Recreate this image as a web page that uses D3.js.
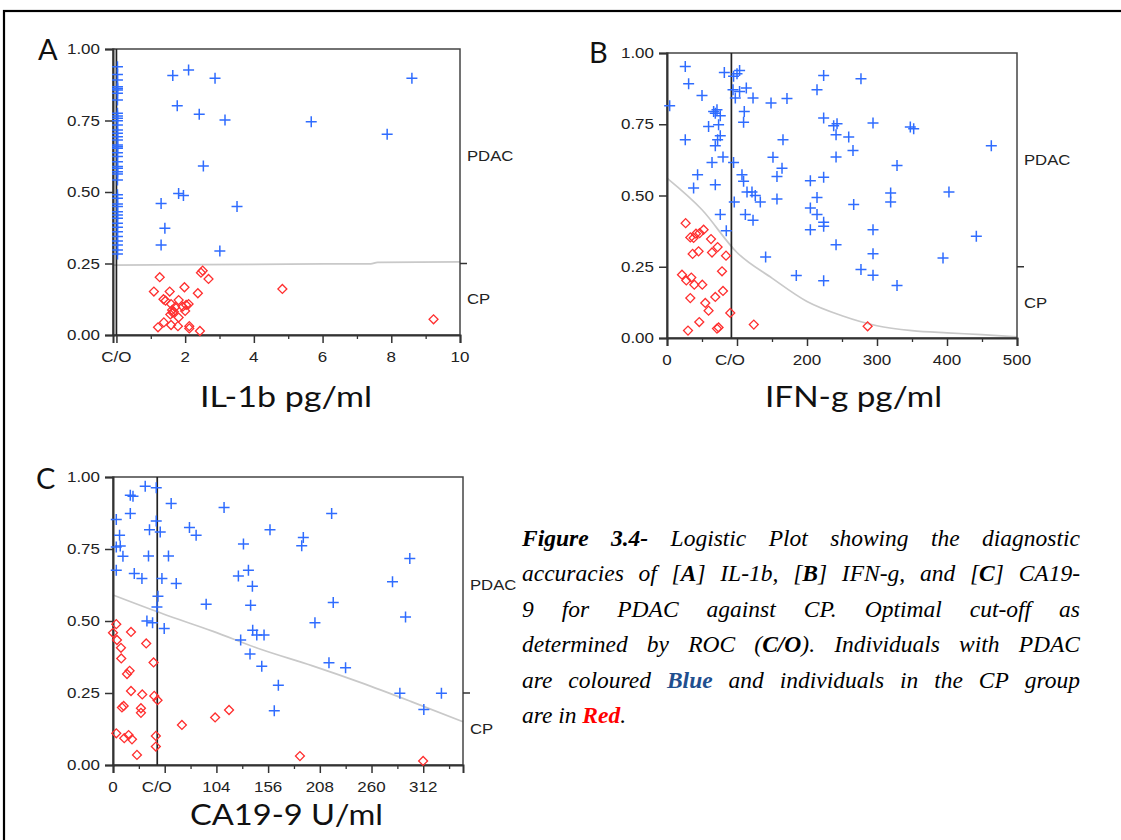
<!DOCTYPE html>
<html><head><meta charset="utf-8">
<script src="https://cdnjs.cloudflare.com/ajax/libs/d3/7.8.5/d3.min.js"></script>
<style>body{margin:0;background:#fff} svg{display:block}</style>
</head><body>
<script>
// ---------------- DATA ----------------
// Panel A : IL-1b pg/ml  -> [value, predicted probability]
const aCutoff = 0.0;
const aPdacAtCutoff = [0.938,0.911,0.892,0.868,0.862,0.857,0.845,0.822,0.775,0.766,0.758,0.749,0.734,0.717,0.705,0.693,0.682,0.664,0.658,0.653,0.637,0.624,0.606,0.589,0.583,0.571,0.563,0.542,0.490,0.478,0.458,0.449,0.431,0.420,0.408,0.391,0.377,0.361,0.344,0.329,0.315,0.297,0.283];
const aPdac = [[1.64,0.907],[2.10,0.927],[2.87,0.898],[1.77,0.802],[2.41,0.772],[3.16,0.752],[2.53,0.591],[1.81,0.495],[1.95,0.488],[1.30,0.460],[3.51,0.449],[1.41,0.373],[1.30,0.315],[3.01,0.294],[5.67,0.746],[8.60,0.898],[7.88,0.702]];
const aCp = [[1.26,0.202],[1.09,0.152],[1.55,0.152],[1.37,0.125],[1.43,0.120],[1.59,0.108],[1.62,0.087],[1.64,0.078],[1.57,0.072],[1.81,0.122],[1.98,0.167],[2.37,0.146],[2.10,0.108],[2.03,0.105],[1.93,0.099],[2.00,0.084],[1.81,0.061],[1.21,0.027],[1.38,0.044],[1.59,0.035],[1.79,0.031],[2.12,0.031],[2.12,0.023],[2.43,0.014],[2.46,0.218],[2.51,0.225],[2.68,0.196],[1.71,0.097],[1.67,0.081],[4.83,0.161],[9.23,0.055]];
const aFit = [[-0.1,0.244],[2.5,0.246],[5,0.248],[7.4,0.249],[7.6,0.254],[10,0.256]];
const aMajorTicks = [0,2,4,6,8,10];
const aMinorTicks = [1,3,5,7,9];
const aTickLabels = [[0,"C/O"],[2,"2"],[4,"4"],[6,"6"],[8,"8"],[10,"10"]];

// Panel B : IFN-g pg/ml
const bCutoff = 92;
const bPdac = [[3.8,0.815],[26.1,0.953],[30.9,0.892],[50,0.851],[26.1,0.696],[43.7,0.573],[38,0.526],[59.4,0.742],[66.6,0.795],[71.4,0.801],[69,0.789],[76.1,0.780],[73.7,0.748],[76.1,0.710],[72.3,0.696],[69,0.675],[64.3,0.616],[80,0.635],[69,0.538],[76.1,0.433],[84.7,0.376],[81.9,0.932],[95.1,0.918],[100,0.927],[103.7,0.939],[94.3,0.871],[97.6,0.842],[103.7,0.865],[113.3,0.877],[122.9,0.842],[110.4,0.795],[109.4,0.757],[95.1,0.616],[107.1,0.573],[109.4,0.550],[114.3,0.512],[121.4,0.512],[126.1,0.500],[133.3,0.477],[96.1,0.477],[111.9,0.433],[122.9,0.413],[140.9,0.284],[148.6,0.825],[171.4,0.840],[165.7,0.696],[151.4,0.634],[164.3,0.596],[157.1,0.567],[157.1,0.488],[184.7,0.219],[223.8,0.921],[277.1,0.910],[214.3,0.871],[223.8,0.772],[238.1,0.745],[242.9,0.752],[241.5,0.713],[259.6,0.705],[265.7,0.658],[294.3,0.754],[347.6,0.740],[352.4,0.734],[463.3,0.675],[241.5,0.635],[328.6,0.605],[204.8,0.552],[223.8,0.564],[319.5,0.509],[319.5,0.477],[402.8,0.512],[214.3,0.493],[204.8,0.456],[266.7,0.468],[214.3,0.433],[223.8,0.406],[223.8,0.392],[204.8,0.380],[294.3,0.380],[241.5,0.327],[294.3,0.296],[441.9,0.357],[394.3,0.281],[277.1,0.240],[294.3,0.220],[223.8,0.201],[328.6,0.184]];
const bCp = [[26.6,0.403],[33.3,0.353],[38,0.351],[41.4,0.366],[46.6,0.368],[52.3,0.380],[62.9,0.347],[72.3,0.319],[64.3,0.300],[45.1,0.304],[36.6,0.295],[84.3,0.289],[78.6,0.234],[21.4,0.222],[27.6,0.202],[34.7,0.212],[39,0.187],[50.4,0.187],[33.3,0.140],[69,0.144],[80,0.165],[54.7,0.123],[59.4,0.096],[90.4,0.088],[46.1,0.056],[30,0.026],[71.4,0.033],[73.7,0.037],[124,0.047],[286.6,0.041]];
const bFit = [[0,0.561],[50,0.45],[100,0.30],[150,0.21],[200,0.128],[250,0.078],[300,0.043],[350,0.026],[400,0.018],[450,0.012],[500,0.004]];
const bMajorTicks = [0,100,200,300,400,500];
const bMinorTicks = [50,150,250,350,450];
const bTickLabels = [[0,"0"],[90,"C/O"],[200,"200"],[300,"300"],[400,"400"],[500,"500"]];

// Panel C : CA19-9 U/ml
const cCutoff = 44.5;
const cPdac = [[3.3,0.852],[6.6,0.798],[3.3,0.757],[7.3,0.760],[10,0.725],[3.3,0.676],[17.4,0.937],[20.1,0.933],[17.4,0.873],[32.4,0.968],[43.5,0.963],[43.5,0.847],[36.7,0.817],[47.5,0.809],[35.7,0.726],[21.4,0.665],[29.1,0.648],[49.2,0.648],[45.2,0.586],[44.2,0.549],[34.1,0.500],[39.8,0.494],[51.5,0.474],[58.5,0.908],[55.8,0.726],[63.6,0.630],[76.9,0.825],[83.6,0.798],[93.7,0.558],[111.7,0.894],[131.2,0.767],[126.1,0.656],[136.2,0.676],[128.4,0.434],[137.8,0.385],[140.2,0.621],[138.4,0.555],[140.5,0.468],[144.6,0.451],[151.9,0.451],[149.6,0.343],[166.3,0.277],[162.2,0.188],[157.9,0.817],[219.9,0.873],[191.4,0.790],[189.8,0.761],[221.5,0.564],[203.1,0.494],[217.2,0.355],[233.9,0.338],[298.5,0.717],[281.1,0.636],[294.2,0.514],[288.5,0.249],[330.3,0.249],[312.6,0.193]];
const cCp = [[3.3,0.489],[0,0.459],[4,0.434],[8,0.407],[8.3,0.370],[18.1,0.462],[33.4,0.422],[40.8,0.356],[16.7,0.327],[14.1,0.316],[18.1,0.257],[29.4,0.245],[41.5,0.240],[44.8,0.225],[10.7,0.205],[9,0.200],[28.1,0.197],[28.1,0.181],[3.3,0.110],[11.3,0.093],[15.7,0.104],[19.1,0.089],[24.1,0.035],[43.1,0.101],[43.1,0.064],[69.3,0.139],[102.7,0.165],[116.7,0.191],[188,0.031],[311.9,0.014]];
const cFit = [[0,0.59],[50,0.525],[100,0.465],[150,0.40],[200,0.345],[250,0.285],[300,0.22],[352,0.15]];
const cMajorTicks = [0,52,104,156,208,260,312];
const cMinorTicks = [26,78,130,182,234,286,338];
const cTickLabels = [[0,"0"],[44,"C/O"],[104,"104"],[156,"156"],[208,"208"],[260,"260"],[312,"312"]];

const yTicks = [0,0.25,0.5,0.75,1];
const groupBoundary = 0.25;
const groupLabels = [[0.625,"PDAC"],[0.125,"CP"]];

// ---------------- DRAWING ----------------
const svg = d3.select("body").append("svg").attr("width",1121).attr("height",840);
svg.append("rect").attr("width",1121).attr("height",840).attr("fill","#fff");
svg.append("rect").attr("x",4).attr("y",11).attr("width",1400).attr("height",1000)
   .attr("fill","none").attr("stroke","#000").attr("stroke-width",2.2);

const tickFont = "'Liberation Sans', Arial, sans-serif";
const BLUE = "#2f6cff", RED = "#ff2f2f";

// widen small labels (the source's labels are horizontally stretched)
function stretch(sel, k){
  sel.each(function(){
    const w = this.getComputedTextLength();
    d3.select(this).attr("textLength", w*k).attr("lengthAdjust","spacingAndGlyphs");
  });
}
function tickStyle(sel){
  sel.attr("font-family",tickFont).attr("font-size",14.5).attr("fill","#222");
}

function panel(cfg){
  const x = d3.scaleLinear().domain(cfg.xDomain).range([cfg.left,cfg.right]);
  const y = d3.scaleLinear().domain([0,1]).range([cfg.bottom,cfg.top]);
  const g = svg.append("g");

  // logistic fit curve
  g.append("path").datum(cfg.fit)
    .attr("d", d3.line().x(d=>x(d[0])).y(d=>y(d[1])).curve(d3.curveMonotoneX))
    .attr("fill","none").attr("stroke","#c9c9c9").attr("stroke-width",1.7);

  // frame
  g.append("rect").attr("x",cfg.left).attr("y",cfg.top)
    .attr("width",cfg.right-cfg.left).attr("height",cfg.bottom-cfg.top)
    .attr("fill","none").attr("stroke","#444").attr("stroke-width",1.5);

  // cut-off line
  g.append("line").attr("x1",x(cfg.cutoff)).attr("x2",x(cfg.cutoff))
    .attr("y1",cfg.top).attr("y2",cfg.bottom).attr("stroke","#222").attr("stroke-width",1.7);

  // y axis
  const ya = g.append("g").attr("transform",`translate(${cfg.left},0)`)
    .call(d3.axisLeft(y).tickValues(yTicks).tickFormat(d3.format(".2f")).tickSize(8).tickPadding(5));
  ya.attr("font-family",null).attr("font-size",null);
  ya.select(".domain").attr("stroke","#333").attr("stroke-width",2);
  ya.selectAll(".tick line").attr("stroke","#333").attr("stroke-width",1.5);
  const yt = ya.selectAll(".tick text"); tickStyle(yt); stretch(yt, 1.17);

  // x axis (major + minor)
  const xa = g.append("g").attr("transform",`translate(0,${cfg.bottom})`)
    .call(d3.axisBottom(x).tickValues(cfg.majors).tickSize(8).tickFormat(""));
  xa.select(".domain").attr("stroke","#333").attr("stroke-width",2);
  xa.selectAll(".tick line").attr("stroke","#333").attr("stroke-width",1.5);
  const xm = g.append("g").attr("transform",`translate(0,${cfg.bottom})`)
    .call(d3.axisBottom(x).tickValues(cfg.minors).tickSize(4).tickFormat(""));
  xm.select(".domain").remove();
  xm.selectAll(".tick line").attr("stroke","#333").attr("stroke-width",1.3);
  const xl = g.selectAll("text.xl").data(cfg.labels).join("text").attr("class","xl")
    .attr("x",d=>x(d[0])).attr("y",cfg.bottom+27).attr("text-anchor","middle").text(d=>d[1]);
  tickStyle(xl); stretch(xl, 1.17);

  // right group axis
  g.append("line").attr("x1",cfg.right).attr("x2",cfg.right+7)
    .attr("y1",y(groupBoundary)).attr("y2",y(groupBoundary)).attr("stroke","#333").attr("stroke-width",1.5);
  const gl = g.selectAll("text.gl").data(groupLabels).join("text").attr("class","gl")
    .attr("x",cfg.right+7).attr("y",d=>y(d[0])).attr("dy","0.36em").text(d=>d[1]);
  tickStyle(gl); stretch(gl, 1.15);

  // CP points: open diamonds
  const diamond = d3.symbol().type(d3.symbolSquare).size(40);
  g.selectAll("path.cp").data(cfg.cp).join("path").attr("class","cp")
    .attr("d",diamond)
    .attr("transform",d=>`translate(${x(d[0])},${y(d[1])}) rotate(45)`)
    .attr("fill","none").attr("stroke",RED).attr("stroke-width",1.3);

  // PDAC points: plus signs
  g.selectAll("path.pd").data(cfg.pdac).join("path").attr("class","pd")
    .attr("d","M-5.5,0H5.5M0,-5.5V5.5")
    .attr("transform",d=>`translate(${x(d[0])},${y(d[1])})`)
    .attr("fill","none").attr("stroke",BLUE).attr("stroke-width",1.5);

  // panel letter
  svg.append("text").attr("x",cfg.letterX).attr("y",cfg.letterY)
    .attr("font-family","Lato, 'Open Sans', sans-serif").attr("font-size",29)
    .attr("fill","#111").text(cfg.letter);

  // axis title
  svg.append("text").attr("x",cfg.titleX).attr("y",cfg.titleY)
    .attr("font-family","Lato, 'Open Sans', sans-serif").attr("font-size",28)
    .attr("textLength",cfg.titleW).attr("lengthAdjust","spacingAndGlyphs")
    .attr("fill","#111").text(cfg.title);
}

panel({xDomain:[-0.1,10], left:113, right:460, top:49, bottom:335,
  cutoff:aCutoff, fit:aFit, majors:aMajorTicks, minors:aMinorTicks, labels:aTickLabels,
  cp:aCp, pdac:aPdac.concat(aPdacAtCutoff.map(p=>[0.03,p])),
  letter:"A", letterX:38, letterY:60, title:"IL-1b pg/ml", titleX:200, titleY:407, titleW:172});

panel({xDomain:[0,500], left:667, right:1017, top:53, bottom:338,
  cutoff:bCutoff, fit:bFit, majors:bMajorTicks, minors:bMinorTicks, labels:bTickLabels,
  cp:bCp, pdac:bPdac,
  letter:"B", letterX:589, letterY:63, title:"IFN-g pg/ml", titleX:765, titleY:407, titleW:177});

panel({xDomain:[0,352], left:113, right:463, top:477, bottom:765,
  cutoff:cCutoff, fit:cFit, majors:cMajorTicks, minors:cMinorTicks, labels:cTickLabels,
  cp:cCp, pdac:cPdac,
  letter:"C", letterX:36, letterY:489, title:"CA19-9 U/ml", titleX:190, titleY:825, titleW:193});

// ---------------- CAPTION (justified) ----------------
const capLines = [
  ["*Figure*","*3.4-*","Logistic","Plot","showing","the","diagnostic"],
  ["accuracies","of","[*A*]","IL-1b,","[*B*]","IFN-g,","and","[*C*]","CA19-"],
  ["9","for","PDAC","against","CP.","Optimal","cut-off","as"],
  ["determined","by","ROC","(*C/O*).","Individuals","with","PDAC"],
  ["are","coloured","#Blue#","and","individuals","in","the","CP","group"],
  ["are","in","%Red%."]
];
const capLeft = 522, capRight = 1080, capTop = 546, capGap = 35.4;
capLines.forEach((words,i)=>{
  const yb = capTop + i*capGap;
  const nodes = words.map(w=>{
    const t = svg.append("text").attr("y",yb)
      .attr("font-family","'Liberation Serif','Times New Roman',serif")
      .attr("font-style","italic").attr("font-size",23.5).attr("fill","#000");
    w.split(/(\*[^*]+\*|#[^#]+#|%[^%]+%)/).filter(s=>s.length).forEach(s=>{
      const sp = t.append("tspan");
      if (s[0]==="*") sp.attr("font-weight","bold").text(s.slice(1,-1));
      else if (s[0]==="#") sp.attr("font-weight","bold").attr("fill","#1f4f8f").text(s.slice(1,-1));
      else if (s[0]==="%") sp.attr("font-weight","bold").attr("fill","#ff0000").text(s.slice(1,-1));
      else sp.text(s);
    });
    return t;
  });
  const widths = nodes.map(n=>n.node().getComputedTextLength());
  const total = d3.sum(widths);
  const last = i === capLines.length-1;
  const gap = last ? 5.8 : (capRight-capLeft-total)/(nodes.length-1);
  let xx = capLeft;
  nodes.forEach((n,j)=>{ n.attr("x",xx); xx += widths[j]+gap; });
});
</script>
</body></html>
